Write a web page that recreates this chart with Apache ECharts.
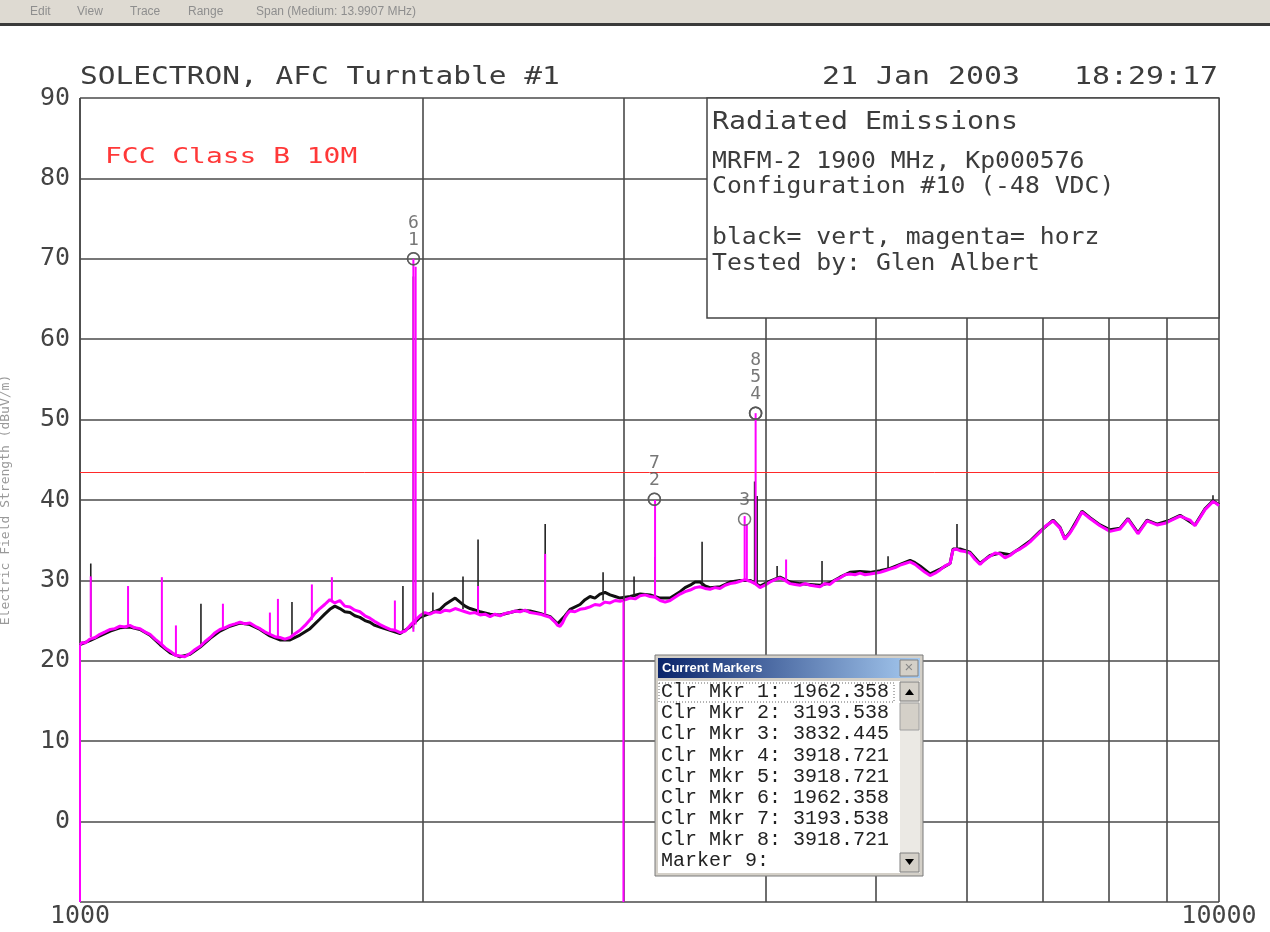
<!DOCTYPE html>
<html>
<head>
<meta charset="utf-8">
<script src="https://cdn.jsdelivr.net/npm/echarts@6/dist/echarts.min.js"></script>
<style>
  html, body { margin: 0; padding: 0; background: #fff; }
  #chart { width: 1270px; height: 932px; }
</style>
</head>
<body>
<div id="chart"></div>
<script>
// horizontal polarisation trace (magenta), [MHz, dBuV/m]
var horz = [
  [1000,22.0],[1005,22.3],[1010,22.2],[1020,22.7],[1031,22.9],[1041,23.3],[1052,23.6],[1063,23.9],[1073,24.0],[1084,24.3],
  [1095,24.2],[1106,24.4],[1117,24.1],[1129,24.0],[1140,23.6],[1152,23.3],[1164,22.7],[1176,22.2],[1188,21.6],[1200,21.2],
  [1212,20.7],[1224,20.6],[1236,20.5],[1249,20.9],[1262,21.4],[1275,21.8],[1288,22.4],[1301,22.9],[1314,23.5],[1327,23.9],
  [1340,24.1],[1354,24.4],[1368,24.6],[1382,24.8],[1396,24.6],[1410,24.7],[1425,24.3],[1439,24.0],[1453,23.6],[1468,23.3],
  [1483,23.0],[1498,22.9],[1513,22.7],[1529,22.9],[1545,23.4],[1560,23.8],[1576,24.4],[1592,25.1],[1608,25.9],[1624,26.5],
  [1640,27.0],[1657,27.6],[1674,27.2],[1691,27.5],[1708,26.8],[1726,26.7],[1743,26.3],[1761,26.1],[1779,25.6],[1797,25.3],
  [1815,24.9],[1834,24.5],[1853,24.2],[1872,23.9],[1891,23.8],[1910,23.5],[1930,23.7],[1949,24.4],[1968,25.0],[1988,25.6],
  [2008,26.0],[2029,25.8],[2050,26.1],[2071,26.0],[2092,26.3],[2113,26.2],[2135,26.5],[2156,26.3],[2178,26.1],[2200,25.9],
  [2222,26.0],[2245,25.7],[2268,25.8],[2291,25.5],[2314,25.8],[2338,25.6],[2362,25.9],[2386,26.0],[2410,26.2],[2434,26.1],
  [2459,26.3],[2484,26.0],[2510,25.9],[2535,25.8],[2561,25.6],[2587,25.4],[2613,24.8],[2626,24.4],[2639,24.3],[2652,24.7],
  [2666,25.4],[2680,25.9],[2693,26.2],[2720,26.1],[2748,26.4],[2776,26.5],[2804,26.7],[2832,27.0],[2861,26.9],[2890,27.3],
  [2920,27.2],[2950,27.5],[2980,27.4],[3010,27.6],[3041,27.8],[3072,27.7],[3103,28.1],[3134,28.2],[3166,28.0],[3198,27.9],
  [3231,27.5],[3264,27.3],[3297,27.5],[3330,27.9],[3364,28.3],[3398,28.6],[3433,28.8],[3468,29.1],[3503,29.2],[3538,29.0],
  [3574,28.9],[3610,29.1],[3647,29.0],[3685,29.4],[3722,29.6],[3760,29.7],[3798,29.9],[3836,30.1],[3875,29.9],[3914,29.6],
  [3954,29.1],[3994,29.4],[4035,29.8],[4076,30.1],[4117,30.3],[4159,30.0],[4201,29.6],[4244,29.5],[4287,29.4],[4331,29.6],
  [4375,29.4],[4419,29.3],[4464,29.2],[4509,29.6],[4555,29.5],[4601,30.0],[4648,30.3],[4695,30.7],[4743,30.8],[4791,30.7],
  [4840,30.9],[4889,30.7],[4939,30.8],[4989,30.9],[5040,31.0],[5091,31.2],[5143,31.4],[5195,31.6],[5248,31.9],[5301,32.1],
  [5355,32.3],[5409,32.0],[5464,31.5],[5520,31.0],[5576,30.6],[5633,30.9],[5690,31.3],[5748,31.8],[5806,32.1],[5841,33.8],
  [5880,33.9],[5924,33.7],[5984,33.6],[6045,33.4],[6107,32.6],[6169,32.0],[6232,32.6],[6295,33.0],[6359,33.4],[6423,33.3],
  [6488,32.8],[6554,33.1],[6621,33.6],[6688,33.9],[6756,34.3],[6825,34.8],[6894,35.4],[6964,36.0],[7035,36.7],[7150,37.4],
  [7251,36.5],[7322,35.1],[7399,35.9],[7475,36.9],[7581,38.5],[7705,37.7],[7862,36.8],[8023,36.1],[8187,36.4],[8320,37.6],
  [8489,35.8],[8646,37.4],[8823,36.9],[8966,37.1],[9057,37.4],[9243,38.0],[9430,37.5],[9526,36.8],[9623,37.8],[9721,38.8],
  [9879,39.8],[9940,39.6],[10000,39.3]
];

// vertical polarisation trace (black), [MHz, dBuV/m]
var vert = [
  [1000,22.0],[1020,22.5],[1041,23.1],[1063,23.7],[1084,24.1],[1106,24.2],[1129,23.9],[1152,23.2],[1176,22.0],[1200,21.0],
  [1224,20.5],[1249,20.8],[1275,21.7],[1301,22.8],[1327,23.7],[1354,24.3],[1382,24.7],[1410,24.5],[1439,23.9],[1468,23.1],
  [1498,22.6],[1529,22.6],[1560,23.2],[1592,24.0],[1624,25.2],[1640,25.8],[1657,26.4],[1674,26.8],[1691,26.5],[1708,26.1],
  [1726,26.0],[1743,25.6],[1761,25.4],[1779,25.0],[1797,24.8],[1815,24.4],[1834,24.2],[1872,23.8],[1910,23.4],[1949,24.2],
  [1988,25.4],[2029,25.9],[2071,26.4],[2092,27.0],[2113,27.4],[2135,27.8],[2156,27.3],[2178,26.8],[2200,26.5],[2245,26.1],
  [2291,25.8],[2338,25.7],[2386,26.0],[2434,26.3],[2484,26.2],[2535,25.9],[2587,25.5],[2626,24.6],[2666,25.6],[2693,26.4],
  [2748,27.0],[2776,27.6],[2804,28.0],[2832,27.8],[2861,28.3],[2890,28.5],[2920,28.2],[2950,28.0],[2980,27.8],[3041,28.0],
  [3103,28.3],[3166,28.2],[3231,27.8],[3297,27.8],[3364,28.6],[3398,29.1],[3433,29.4],[3468,29.8],[3503,29.8],[3538,29.3],
  [3574,29.1],[3647,29.2],[3722,29.8],[3798,30.0],[3875,30.0],[3954,29.3],[4035,29.9],[4117,30.4],[4201,29.8],[4287,29.6],
  [4375,29.5],[4464,29.4],[4555,29.7],[4648,30.4],[4743,31.0],[4840,31.1],[4939,31.0],[5040,31.2],[5143,31.5],[5248,32.0],
  [5355,32.5],[5409,32.2],[5464,31.8],[5520,31.3],[5576,30.8],[5690,31.4],[5806,32.1],[5841,33.9],[5924,33.9],[6045,33.5],
  [6169,32.1],[6295,33.1],[6423,33.4],[6554,33.2],[6688,34.0],[6825,34.9],[6964,36.1],[7150,37.5],[7251,36.6],[7322,35.2],
  [7399,36.0],[7581,38.6],[7705,37.8],[7862,36.9],[8023,36.3],[8187,36.5],[8320,37.7],[8489,35.9],[8646,37.5],[8823,37.0],
  [9057,37.5],[9243,38.1],[9526,36.9],[9721,38.9],[9879,39.9],[10000,39.4]
];

// narrow emissions: [MHz, from dB, to dB]
var vertSpikes = [
  [1022,23.0,32.1],[1277,22.0,27.1],[1535,23.0,27.3],[1921,23.6,29.3],[1962,24.0,67.8],[2041,25.9,28.5],
  [2169,26.4,30.5],[2236,25.8,35.1],[2561,25.8,37.0],[2879,27.5,31.0],[3065,28.0,30.5],[3198,27.8,32.9],
  [3517,29.2,34.8],[3911,29.5,42.3],[3931,29.5,40.5],[4093,30.2,31.8],[4482,29.3,32.4],[5122,31.2,33.0],
  [5888,33.8,37.0],[9879,39.8,40.6]
];
var horzSpikes = [
  [1000,-10,22.0],[1022,23.0,30.5],[1102,24.3,29.3],[1180,22.0,30.4],[1214,20.7,24.4],[1335,24.0,27.1],
  [1468,23.2,26.0],[1492,22.9,27.7],[1598,25.1,29.5],[1664,27.4,30.4],[1890,23.8,27.5],[1962,23.6,70.0],
  [1971,24.5,69.0],[2236,25.8,29.3],[2561,25.8,33.3],[3000,-10,27.5],[3198,27.9,40.0],[3833,30.0,38.0],
  [3850,30.0,37.0],[3919,29.6,50.8],[4168,30.0,32.6]
];

// cleared markers
var markerFreq = [1962.358, 3193.538, 3832.445, 3918.721, 3918.721, 1962.358, 3193.538, 3918.721];
var markerLevel = [70.0, 40.1, 37.6, 50.8, 50.8, 70.0, 40.1, 50.8];

var limitLevel = 43.5;
var minorFreqs = [2000, 3000, 4000, 5000, 6000, 7000, 8000, 9000];
var menuItems = [['Edit', 30], ['View', 77], ['Trace', 130], ['Range', 188], ['Span (Medium: 13.9907 MHz)', 256]];
var infoLines = ['MRFM-2 1900 MHz, Kp000576', 'Configuration #10 (-48 VDC)', '', 'black= vert, magenta= horz', 'Tested by: Glen Albert'];

var MONO = '"DejaVu Sans Mono", monospace';
var GRID = '#4a4a4a';
var INK = '#3c3c3c';

function txt(x, y, text, size, opts) {
  opts = opts || {};
  return {
    type: 'text', x: x, y: y, z: 101, scaleX: opts.sx || 1, rotation: opts.rot || 0,
    style: {
      text: text, font: (opts.weight || '') + ' ' + size + 'px ' + (opts.family || MONO),
      fill: opts.fill || INK,
      textAlign: opts.align || 'left', align: opts.align || 'left',
      textVerticalAlign: 'middle', verticalAlign: 'middle'
    }
  };
}
function rect(x, y, w, h, fill, stroke, extra) {
  var el = { type: 'rect', z: 100, shape: { x: x, y: y, width: w, height: h },
    style: { fill: fill, stroke: stroke || null, lineWidth: 1 } };
  if (extra) for (var k in extra) el.style[k] = extra[k];
  return el;
}

var graphics = [];
// menu strip
graphics.push(rect(0, 0, 1270, 23, '#dedad2'));
graphics.push(rect(0, 23, 1270, 3, '#3a3a3a'));
menuItems.forEach(function (m) { graphics.push(txt(m[1], 12, m[0], 12, { family: '"Liberation Sans"', fill: '#8e8e8e' })); });
// header texts
graphics.push(txt(80, 78, 'SOLECTRON, AFC Turntable #1', 24, { sx: 1.23 }));
graphics.push(txt(1218, 78, '21 Jan 2003   18:29:17', 24, { sx: 1.246, align: 'right' }));
graphics.push(txt(105, 158, 'FCC Class B 10M', 21, { sx: 1.33, fill: '#ff3838' }));
graphics.push(txt(6, 500, 'Electric Field Strength (dBuV/m)', 13, { rot: Math.PI / 2, align: 'center', fill: '#999' }));
// info box
graphics.push(rect(707, 98, 512, 220, '#fff', '#444', { lineWidth: 1.5 }));
graphics.push(txt(712, 123, 'Radiated Emissions', 24, { sx: 1.177 }));
infoLines.forEach(function (s, i) {
  if (s) graphics.push(txt(712, 162 + i * 25.5, s, 23, { sx: 1.076 }));
});
// Current Markers window
graphics.push(rect(655, 655, 268, 221, '#d4d0c8', '#7a7a7a'));
graphics.push({ type: 'rect', z: 100, shape: { x: 658, y: 658, width: 262, height: 20 },
  style: { fill: { type: 'linear', x: 0, y: 0, x2: 1, y2: 0,
    colorStops: [{ offset: 0, color: '#0a246a' }, { offset: 1, color: '#a6caf0' }] } } });
graphics.push(txt(662, 668, 'Current Markers', 13, { family: '"Liberation Sans"', weight: 'bold', fill: '#fff' }));
graphics.push(rect(900, 660, 18, 16, '#d4d0c8', '#808080'));
graphics.push(txt(909, 668, '\u00d7', 15, { family: '"Liberation Sans"', align: 'center', fill: '#888' }));
graphics.push(rect(658, 681, 242, 192, '#fff'));
graphics.push(rect(659, 683, 235, 19, null, '#666', { lineDash: [1, 2] }));
markerFreq.forEach(function (f, i) {
  graphics.push(txt(661, 692 + i * 21.1, 'Clr Mkr ' + (i + 1) + ': ' + f.toFixed(3), 20,
    { family: '"Liberation Mono"', fill: '#222' }));
});
graphics.push(txt(661, 692 + markerFreq.length * 21.1, 'Marker ' + (markerFreq.length + 1) + ':', 20,
  { family: '"Liberation Mono"', fill: '#222' }));
graphics.push(rect(900, 681, 20, 192, '#ebe9e4'));
graphics.push(rect(900, 682, 19, 19, '#d4d0c8', '#808080'));
graphics.push({ type: 'polygon', z: 101, shape: { points: [[905, 695], [914, 695], [909.5, 689]] }, style: { fill: '#000' } });
graphics.push(rect(900, 703, 19, 27, '#d4d0c8', '#a0a0a0'));
graphics.push(rect(900, 853, 19, 19, '#d4d0c8', '#808080'));
graphics.push({ type: 'polygon', z: 101, shape: { points: [[905, 859], [914, 859], [909.5, 865]] }, style: { fill: '#000' } });

function spikeSeries(data, color, width, z) {
  return {
    type: 'custom', data: data, z: z, silent: true,
    encode: { x: 0, y: [1, 2] },
    renderItem: function (params, api) {
      var a = api.coord([api.value(0), api.value(1)]);
      var b = api.coord([api.value(0), api.value(2)]);
      return { type: 'line', shape: { x1: a[0], y1: a[1], x2: b[0], y2: b[1] },
        style: { stroke: color, lineWidth: width } };
    }
  };
}

// marker labels stack upward when several markers share a frequency
var markerData = markerFreq.map(function (f, i) {
  var k = 0;
  for (var j = 0; j < i; j++) if (markerFreq[j] === f) k++;
  return { value: [f, markerLevel[i]], label: { distance: 3 + k * 17 } };
});

var chart = echarts.init(document.getElementById('chart'));
chart.setOption({
  animation: false,
  backgroundColor: '#fff',
  grid: { left: 80, right: 51, top: 98, bottom: 30 },
  xAxis: {
    type: 'log', logBase: 10, min: 1000, max: 10000,
    axisLine: { show: false }, axisTick: { show: false },
    splitLine: { show: true, lineStyle: { color: GRID, width: 1.6 } },
    axisLabel: { fontFamily: MONO, fontSize: 25, color: '#444', margin: 2,
      formatter: function (v) { return String(Math.round(v)); } }
  },
  yAxis: {
    type: 'value', min: -10, max: 90, interval: 10,
    axisLine: { show: false }, axisTick: { show: false },
    splitLine: { show: true, lineStyle: { color: GRID, width: 1.6 } },
    axisLabel: { fontFamily: MONO, fontSize: 25, color: '#444', margin: 10,
      formatter: function (v) { return v < 0 ? '' : String(v); } }
  },
  graphic: { elements: graphics },
  series: [
    {
      type: 'line', data: [], z: 1, silent: true,
      markLine: {
        silent: true, symbol: ['none', 'none'], label: { show: false },
        data: minorFreqs.map(function (f) { return { xAxis: f, lineStyle: { color: GRID, width: 1.6, type: 'solid' } }; })
          .concat([{ yAxis: limitLevel, lineStyle: { color: '#ff2a2a', width: 1, type: 'solid' } }])
      }
    },
    { name: 'vert', type: 'line', data: vert, z: 2, symbol: 'none', silent: true,
      lineStyle: { color: '#111', width: 3 } },
    spikeSeries(vertSpikes, '#222', 1.6, 3),
    { name: 'horz', type: 'line', data: horz, z: 4, symbol: 'none', silent: true,
      lineStyle: { color: '#ff00ff', width: 3 } },
    spikeSeries(horzSpikes, '#ff00ff', 2, 5),
    {
      type: 'scatter', data: markerData, z: 6, silent: true,
      symbol: 'circle', symbolSize: 12,
      itemStyle: { color: 'rgba(0,0,0,0)', borderColor: '#555', borderWidth: 1.5 },
      label: { show: true, position: 'top', fontFamily: MONO, fontSize: 18, color: '#555',
        formatter: function (p) { return String(p.dataIndex + 1); } }
    }
  ]
});
</script>
</body>
</html>
